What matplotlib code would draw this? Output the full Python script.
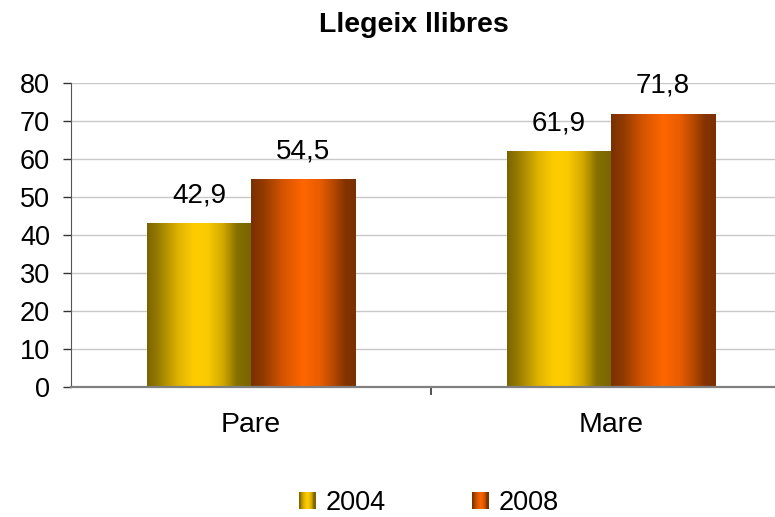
import numpy as np
import matplotlib
matplotlib.use("Agg")
import matplotlib.pyplot as plt
from matplotlib.colors import LinearSegmentedColormap
from matplotlib.patches import Rectangle
from matplotlib.legend_handler import HandlerBase

plt.rcParams['font.family'] = ['Liberation Sans', 'DejaVu Sans']

# ---- data ----
title = "Llegeix llibres"
categories = ["Pare", "Mare"]
series_names = ["2004", "2008"]
values_2004 = [42.9, 61.9]
values_2008 = [54.5, 71.8]
yticks = [0, 10, 20, 30, 40, 50, 60, 70, 80]

# ---- gradients ----
cmap_2004 = LinearSegmentedColormap.from_list("g2004", [
    (0.0, "#7A6400"), (0.12, "#9C8000"), (0.30, "#E0B400"), (0.45, "#FFCC00"),
    (0.58, "#FACA00"), (0.72, "#D4AA00"), (0.86, "#857000"), (1.0, "#7A6400")])
cmap_2008 = LinearSegmentedColormap.from_list("g2008", [
    (0.0, "#7A3000"), (0.12, "#933A00"), (0.30, "#D45400"), (0.50, "#FF6600"),
    (0.66, "#E85C00"), (0.80, "#B04600"), (0.90, "#843300"), (1.0, "#7A3000")])
cmaps = [cmap_2004, cmap_2008]

W, H = 775, 517
fig = plt.figure(figsize=(W / 100, H / 100), dpi=100)
ax = fig.add_axes([71 / W, 130 / H, 720 / W, 304 / H])

x = np.arange(len(categories))
bw = 0.289
grad = np.linspace(0, 1, 256).reshape(1, -1)

for i, (vals, cm) in enumerate(zip([values_2004, values_2008], cmaps)):
    offs = (i - 0.5) * bw
    bars = ax.bar(x + offs, vals, width=bw, color="none", edgecolor="none", zorder=3)
    for p in bars:
        x0, y0 = p.get_x(), p.get_y()
        ax.imshow(grad, cmap=cm, aspect="auto", zorder=3,
                  extent=[x0, x0 + p.get_width(), y0, y0 + p.get_height()],
                  interpolation="bilinear")
    labels = [f"{v:.1f}".replace(".", ",") for v in vals]
    ax.bar_label(bars, labels=labels, padding=11, fontsize=20, color="black")

ax.set_xlim(-0.5, 1.5)
ax.set_ylim(0, 80)
ax.set_yticks(yticks)
ax.set_yticklabels([str(t) for t in yticks], fontsize=19.5)
ax.set_xticks(x)
ax.set_xticklabels(categories, fontsize=20.5)
ax.set_xticks([0.5], minor=True)
ax.tick_params(axis="x", which="major", length=0, pad=18)
ax.tick_params(axis="x", which="minor", length=6, width=1.2, color="#333333", direction="out")
ax.tick_params(axis="y", length=6, width=1, color="#333333", direction="out", pad=9)
ax.yaxis.grid(True, color="#C8C8C8", linewidth=1)
ax.set_axisbelow(True)
for s in ["top", "right"]:
    ax.spines[s].set_visible(False)
ax.spines["left"].set_color("#555555")
ax.spines["bottom"].set_color("#808080")
ax.spines["bottom"].set_linewidth(1.6)
ax.spines["bottom"].set_zorder(4)

fig.text(414 / W, 1 - 32 / H, title, ha="center", va="baseline",
         fontsize=20.5, fontweight="bold")


class GradHandler(HandlerBase):
    def __init__(self, cm):
        super().__init__()
        self.cm = cm

    def create_artists(self, legend, orig_handle, xdescent, ydescent, width, height, fontsize, trans):
        n = 20
        arts = []
        side = height
        x0 = -xdescent + (width - side) / 2
        y0 = -ydescent
        for k in range(n):
            r = Rectangle((x0 + side * k / n, y0), side / n * 1.05, side,
                          facecolor=self.cm((k + 0.5) / n), edgecolor="none",
                          transform=trans)
            arts.append(r)
        return arts


h1 = Rectangle((0, 0), 1, 1)
h2 = Rectangle((0, 0), 1, 1)
fig.legend([h1, h2], series_names, loc="center", bbox_to_anchor=(429 / W, 1 - 503 / H),
           ncol=2, frameon=False, fontsize=19.5, handlelength=0.6, handleheight=0.6,
           handletextpad=0.37, columnspacing=3.2, borderpad=0,
           handler_map={h1: GradHandler(cmap_2004), h2: GradHandler(cmap_2008)})

fig.savefig("out.png", dpi=100)
